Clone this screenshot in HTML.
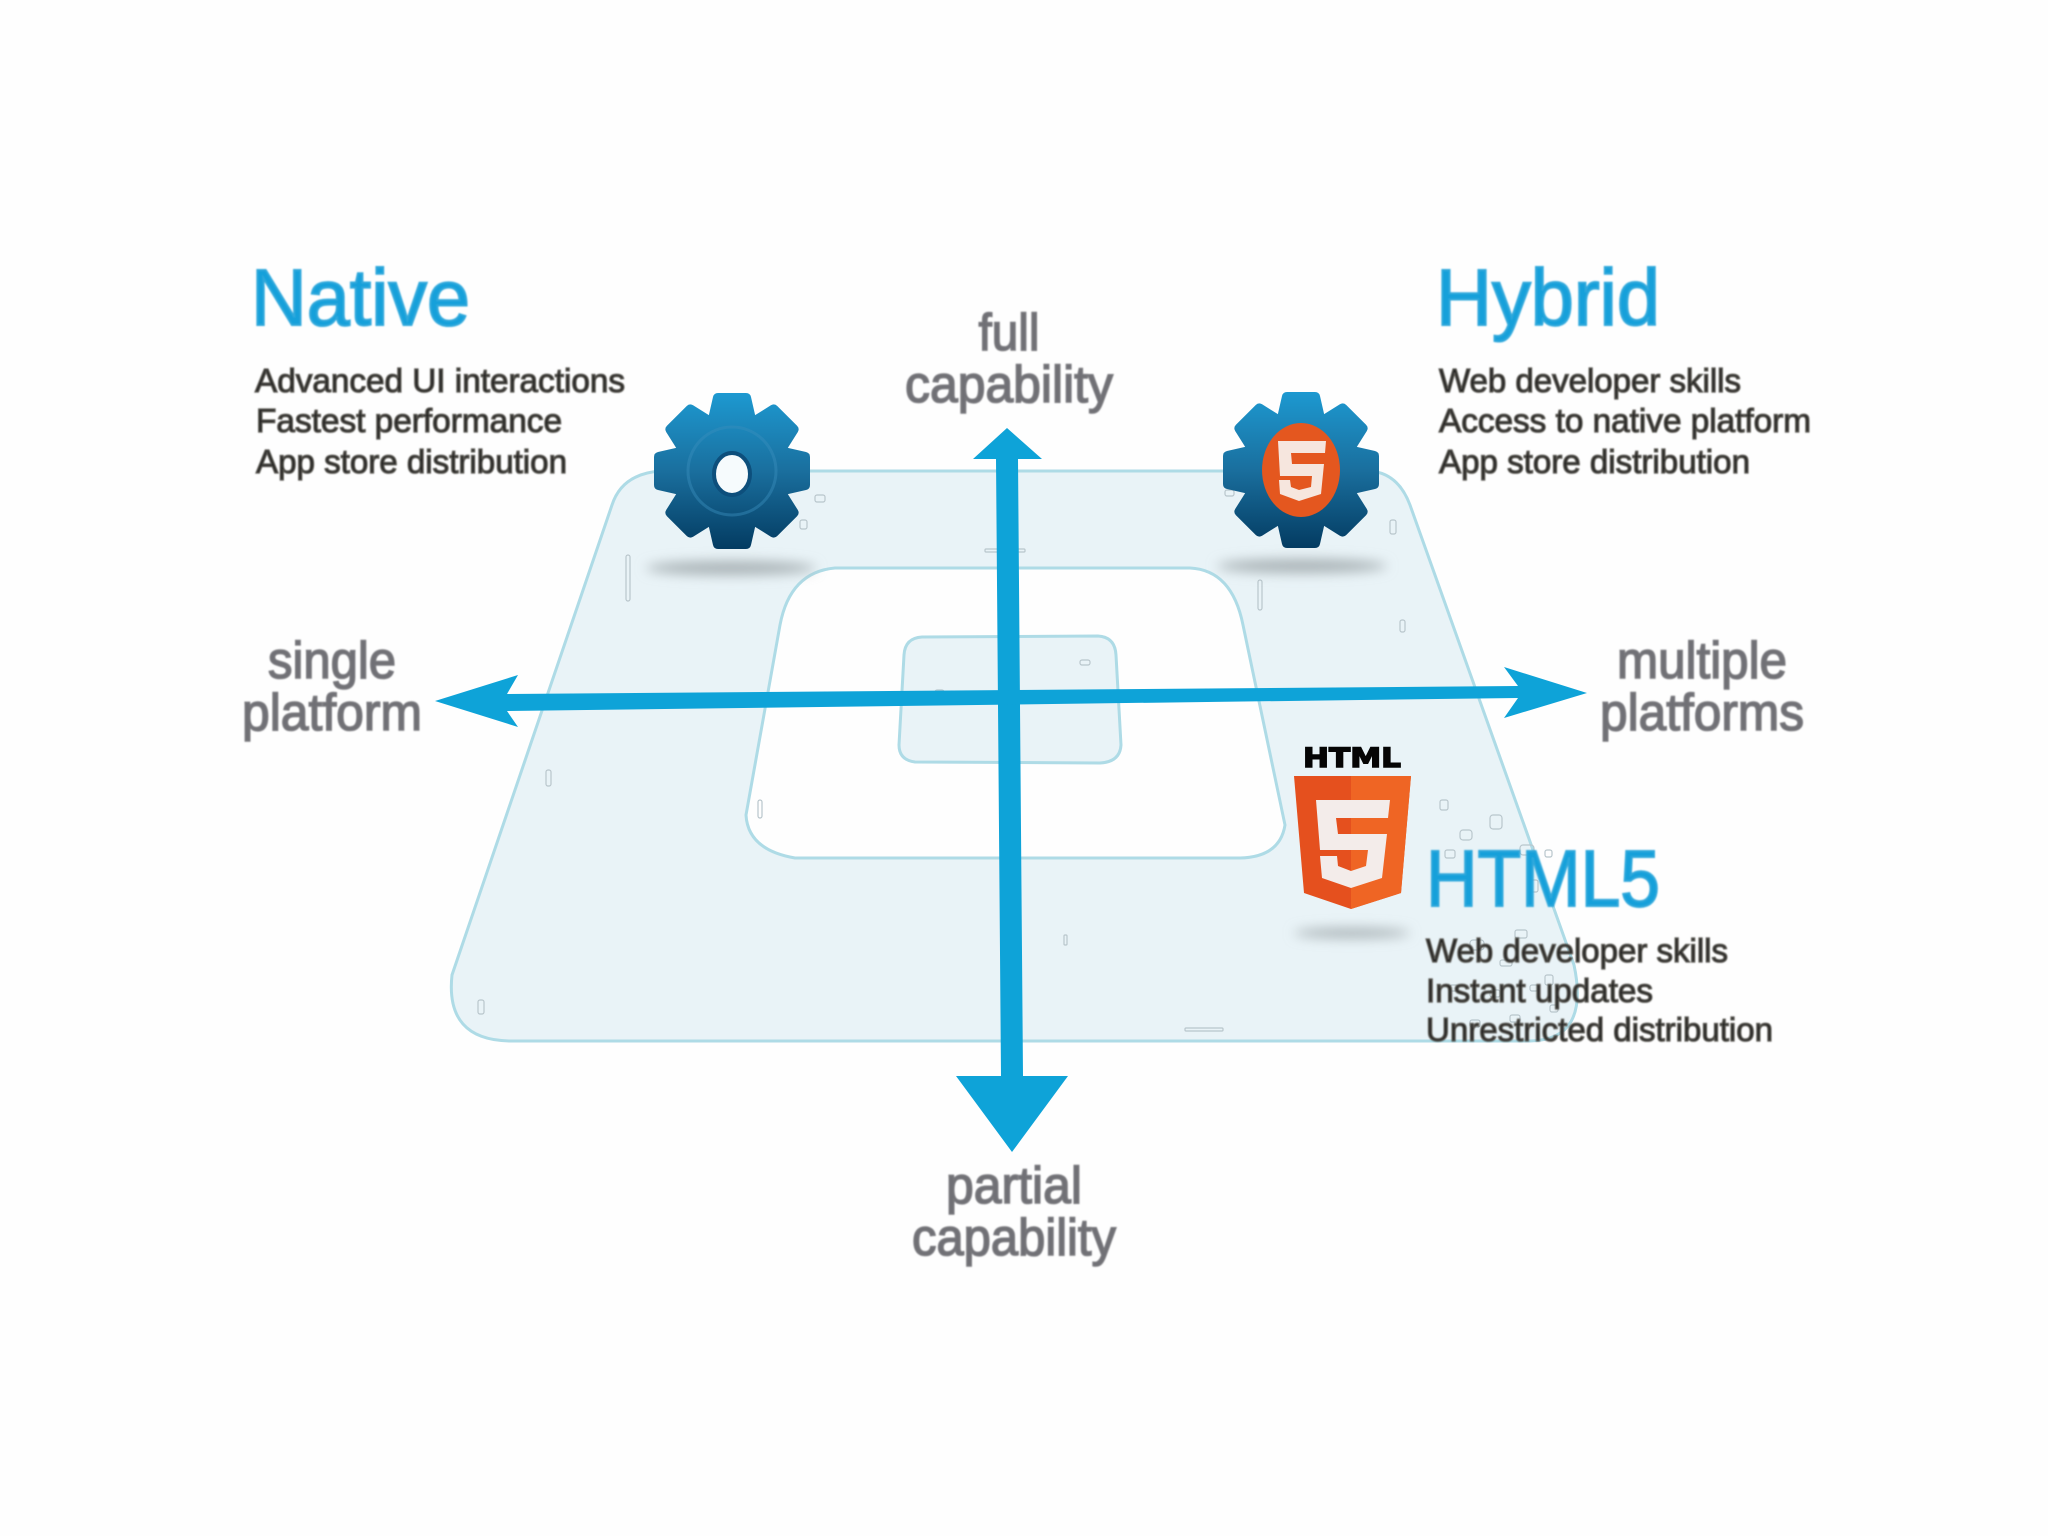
<!DOCTYPE html>
<html>
<head>
<meta charset="utf-8">
<style>
html,body{margin:0;padding:0;background:#fefefe;width:2048px;height:1536px;overflow:hidden}
svg{display:block}
text{font-family:"Liberation Sans",sans-serif}
.t{fill:#12a0da;font-size:80px;stroke:#2fa8dc;stroke-width:2px;filter:url(#b1)}
.b{fill:#1f1f1f;font-size:33px;stroke:#55534e;stroke-width:1.3px;filter:url(#b1)}
.l{fill:#6f6f74;font-size:52px;text-anchor:middle;stroke:#77777c;stroke-width:1.6px;filter:url(#b1)}
</style>
</head>
<body>
<svg width="2048" height="1536" viewBox="0 0 2048 1536" xmlns="http://www.w3.org/2000/svg">
<defs>
<filter id="b1" x="-5%" y="-20%" width="110%" height="140%"><feGaussianBlur stdDeviation="0.8"/></filter>
<filter id="b8" x="-30%" y="-200%" width="160%" height="500%"><feGaussianBlur stdDeviation="6"/></filter>
<linearGradient id="g" x1="0" y1="0" x2="0" y2="1">
<stop offset="0" stop-color="#1d9ad2"/><stop offset=".5" stop-color="#1a6f9e"/><stop offset="1" stop-color="#033a60"/>
</linearGradient>
<clipPath id="gc">
<circle cx="0" cy="0" r="60"/>
<path d="M-24,-52 L-19,-74 Q-18,-78 -14,-78 L14,-78 Q18,-78 19,-74 L24,-52Z"/>
<path d="M-24,-52 L-19,-74 Q-18,-78 -14,-78 L14,-78 Q18,-78 19,-74 L24,-52Z" transform="rotate(45)"/>
<path d="M-24,-52 L-19,-74 Q-18,-78 -14,-78 L14,-78 Q18,-78 19,-74 L24,-52Z" transform="rotate(90)"/>
<path d="M-24,-52 L-19,-74 Q-18,-78 -14,-78 L14,-78 Q18,-78 19,-74 L24,-52Z" transform="rotate(135)"/>
<path d="M-24,-52 L-19,-74 Q-18,-78 -14,-78 L14,-78 Q18,-78 19,-74 L24,-52Z" transform="rotate(180)"/>
<path d="M-24,-52 L-19,-74 Q-18,-78 -14,-78 L14,-78 Q18,-78 19,-74 L24,-52Z" transform="rotate(225)"/>
<path d="M-24,-52 L-19,-74 Q-18,-78 -14,-78 L14,-78 Q18,-78 19,-74 L24,-52Z" transform="rotate(270)"/>
<path d="M-24,-52 L-19,-74 Q-18,-78 -14,-78 L14,-78 Q18,-78 19,-74 L24,-52Z" transform="rotate(315)"/>
</clipPath>
</defs>

<rect width="2048" height="1536" fill="#fefefe"/>

<!-- quadrilateral regions -->
<path d="M660,471 L1370,471 Q1398,473 1410,505 L1574,965 Q1590,1040 1530,1041 L510,1041 Q445,1040 452,975 L612,505 Q622,474 660,471Z" fill="#e9f3f7" stroke="#aedbe6" stroke-width="3"/>
<path d="M835,568 L1190,568 Q1232,570 1243,625 L1285,825 Q1280,857 1240,858 L795,858 Q748,850 746,815 L780,625 Q790,572 835,568Z" fill="#fefefe" stroke="#aedbe6" stroke-width="3"/>
<path d="M922,637 L1098,636 Q1115,637 1116,655 L1121,745 Q1120,762 1100,763 L915,762 Q899,760 899,745 L904,655 Q905,638 922,637Z" fill="#e9f3f7" stroke="#aedbe6" stroke-width="3"/>

<!-- speckles -->
<g fill="none" stroke="#b9c6cc" stroke-width="1.2">
<rect x="626" y="555" width="4" height="46" rx="2"/><rect x="1258" y="580" width="4" height="30" rx="2"/>
<rect x="985" y="549" width="40" height="3" rx="1"/><rect x="1185" y="1028" width="38" height="3" rx="1"/>
<rect x="1064" y="935" width="3" height="10" rx="1"/><rect x="758" y="800" width="4" height="18" rx="2"/>
<rect x="546" y="770" width="5" height="16" rx="2"/><rect x="478" y="1000" width="6" height="14" rx="2"/>
<rect x="1460" y="830" width="12" height="10" rx="3"/><rect x="1490" y="815" width="12" height="14" rx="3"/>
<rect x="1445" y="850" width="10" height="8" rx="2"/><rect x="1520" y="845" width="14" height="10" rx="3"/>
<rect x="1470" y="940" width="14" height="10" rx="3"/><rect x="1515" y="930" width="12" height="8" rx="2"/>
<rect x="1450" y="985" width="8" height="6" rx="2"/><rect x="1490" y="990" width="10" height="7" rx="2"/>
<rect x="1530" y="985" width="8" height="6" rx="2"/><rect x="1470" y="1020" width="10" height="7" rx="2"/>
<rect x="1510" y="1015" width="10" height="7" rx="2"/><rect x="1550" y="1005" width="8" height="7" rx="2"/>
<rect x="815" y="495" width="10" height="7" rx="2"/><rect x="800" y="520" width="7" height="9" rx="2"/>
<rect x="1225" y="490" width="9" height="6" rx="2"/><rect x="1390" y="520" width="6" height="14" rx="2"/>
<rect x="1400" y="620" width="5" height="12" rx="2"/><rect x="1530" y="880" width="8" height="12" rx="2"/>
<rect x="1440" y="800" width="8" height="10" rx="2"/><rect x="1545" y="850" width="7" height="7" rx="2"/>
<rect x="1500" y="960" width="12" height="6" rx="2"/><rect x="1545" y="975" width="8" height="10" rx="2"/>
<rect x="935" y="690" width="9" height="6" rx="2"/><rect x="1080" y="660" width="10" height="5" rx="2"/>
</g>

<!-- shadows -->
<ellipse cx="731" cy="568" rx="85" ry="7" fill="#a9b2b6" filter="url(#b8)"/>
<ellipse cx="1302" cy="566" rx="85" ry="7" fill="#a9b2b6" filter="url(#b8)"/>
<ellipse cx="1352" cy="933" rx="58" ry="5" fill="#a9b2b6" filter="url(#b8)"/>

<!-- gears -->
<g transform="translate(732,471)">
<rect x="-80" y="-80" width="160" height="160" fill="url(#g)" clip-path="url(#gc)"/>
<circle r="44" fill="none" stroke="#3a8fbd" stroke-width="3" opacity=".45"/>
<ellipse rx="18" ry="21" cy="3" fill="#f6fbfd" stroke="#0d4f7c" stroke-width="4"/>
</g>
<g transform="translate(1301,470)">
<rect x="-80" y="-80" width="160" height="160" fill="url(#g)" clip-path="url(#gc)"/>
<ellipse rx="39" ry="47" fill="#e4571f"/>
<path d="M-23,-29 L25,-29 L24,-17 L-10,-17 L-9,-6 L23,-6 L20,24 L-2,31 L-21,24 L-22,10 L-11,10 L-10,17 L-2,20 L10,17 L11,6 L-21,6Z" fill="#f6e6de"/>
</g>

<!-- HTML5 shield -->
<text x="1352" y="767" text-anchor="middle" font-size="27" font-weight="700" textLength="98" lengthAdjust="spacingAndGlyphs" fill="#050505" stroke="#050505" stroke-width="1.4" style="font-family:'DejaVu Sans',sans-serif">HTML</text>
<path d="M1294,776 L1411,776 L1401,893 L1351,909 L1304,893Z" fill="#e5501e"/>
<path d="M1351,776 L1411,776 L1401,893 L1351,909Z" fill="#ef6524"/>
<path d="M1316,800 L1390,800 L1388,818 L1336,818 L1338,834 L1387,834 L1382,878 L1351,888 L1322,878 L1320,856 L1337,856 L1338,866 L1351,871 L1366,866 L1368,850 L1320,850Z" fill="#f3ecea"/>

<!-- axes -->
<path d="M1007,428 L1042,459 L1018,459 L1023,1076 L1068,1076 L1012,1152 L956,1076 L1001,1076 L996,459 L973,459Z" fill="#0ea3d8"/>
<path d="M435,701 L518,675 L507,694 L1518,686 L1504,667 L1587,693 L1504,718 L1518,698 L507,711 L518,727Z" fill="#0ea3d8"/>

<!-- headings -->
<text class="t" x="251" y="325" textLength="219" lengthAdjust="spacingAndGlyphs">Native</text>
<text class="t" x="1436" y="325" textLength="224" lengthAdjust="spacingAndGlyphs">Hybrid</text>
<text class="t" x="1426" y="906" textLength="234" lengthAdjust="spacingAndGlyphs">HTML5</text>

<!-- body -->
<text class="b" x="255" y="392" textLength="370" lengthAdjust="spacingAndGlyphs">Advanced UI interactions</text>
<text class="b" x="256" y="432" textLength="306" lengthAdjust="spacingAndGlyphs">Fastest performance</text>
<text class="b" x="256" y="473" textLength="311" lengthAdjust="spacingAndGlyphs">App store distribution</text>
<text class="b" x="1439" y="392" textLength="302" lengthAdjust="spacingAndGlyphs">Web developer  skills</text>
<text class="b" x="1439" y="432" textLength="372" lengthAdjust="spacingAndGlyphs">Access to native platform</text>
<text class="b" x="1439" y="473" textLength="311" lengthAdjust="spacingAndGlyphs">App store distribution</text>
<text class="b" x="1426" y="962" textLength="302" lengthAdjust="spacingAndGlyphs">Web developer skills</text>
<text class="b" x="1426" y="1002" textLength="227" lengthAdjust="spacingAndGlyphs">Instant updates</text>
<text class="b" x="1426" y="1041" textLength="347" lengthAdjust="spacingAndGlyphs">Unrestricted distribution</text>

<!-- axis labels -->
<text class="l" x="1009" y="350" textLength="61" lengthAdjust="spacingAndGlyphs">full</text>
<text class="l" x="1009" y="402" textLength="208" lengthAdjust="spacingAndGlyphs">capability</text>
<text class="l" x="332" y="678" textLength="128" lengthAdjust="spacingAndGlyphs">single</text>
<text class="l" x="332" y="730" textLength="180" lengthAdjust="spacingAndGlyphs">platform</text>
<text class="l" x="1702" y="678" textLength="170" lengthAdjust="spacingAndGlyphs">multiple</text>
<text class="l" x="1702" y="730" textLength="204" lengthAdjust="spacingAndGlyphs">platforms</text>
<text class="l" x="1014" y="1203" textLength="136" lengthAdjust="spacingAndGlyphs">partial</text>
<text class="l" x="1014" y="1255" textLength="204" lengthAdjust="spacingAndGlyphs">capability</text>
</svg>
</body>
</html>
